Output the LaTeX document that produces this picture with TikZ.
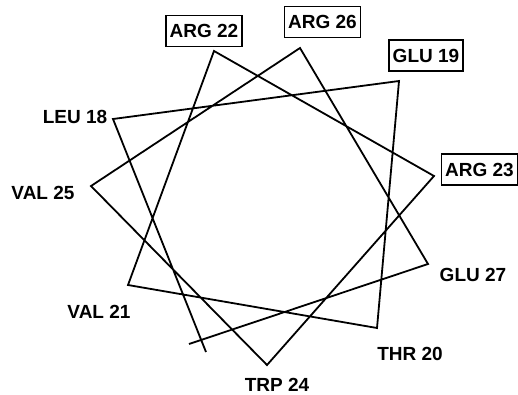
\documentclass[tikz,border=0pt]{standalone}
\usepackage{fontspec}
\setmainfont{Liberation Sans}
\begin{document}
\begin{tikzpicture}[x=1pt,y=-1pt,
  lab/.style={font=\fontsize{19}{21}\selectfont\bfseries, inner sep=0pt, text height=13.6pt, text depth=0pt},
  boxlab/.style={lab, draw, line width=1.6pt, inner xsep=3.6pt, inner ysep=8.6pt},
  wheel/.style={line width=1.8pt}]
\useasboundingbox (0,0) rectangle (518,394);
% vertices
\coordinate (s) at (206,352);
\coordinate (v18) at (113,119);
\coordinate (v19) at (399,81);
\coordinate (v20) at (377,328);
\coordinate (v21) at (128,285);
\coordinate (v22) at (214,51);
\coordinate (v23) at (434,176);
\coordinate (v24) at (267,365);
\coordinate (v25) at (91,186);
\coordinate (v26) at (300,48);
\coordinate (v27) at (428,264);
\coordinate (e) at (189,344);
\draw[wheel] (s) -- (v18) -- (v19) -- (v20) -- (v21) -- (v22) -- (v23) -- (v24) -- (v25) -- (v26) -- (v27) -- (e);
% labels
\node[boxlab] (arg22) at (204,31) {ARG 22};
\node[boxlab] (arg26) at (322.5,22) {ARG 26};
\node[boxlab] (glu19) at (426,55.5) {GLU 19};
\node[boxlab] (arg23) at (479.5,169.5) {ARG 23};
\node[lab] (leu18) at (75,117) {LEU 18};
\node[lab] (val25) at (43,193) {VAL 25};
\node[lab] (val21) at (99,311.5) {VAL 21};
\node[lab] (trp24) at (277,384.5) {TRP 24};
\node[lab] (thr20) at (410,354) {THR 20};
\node[lab] (glu27) at (473,275) {GLU 27};
\end{tikzpicture}
\end{document}
